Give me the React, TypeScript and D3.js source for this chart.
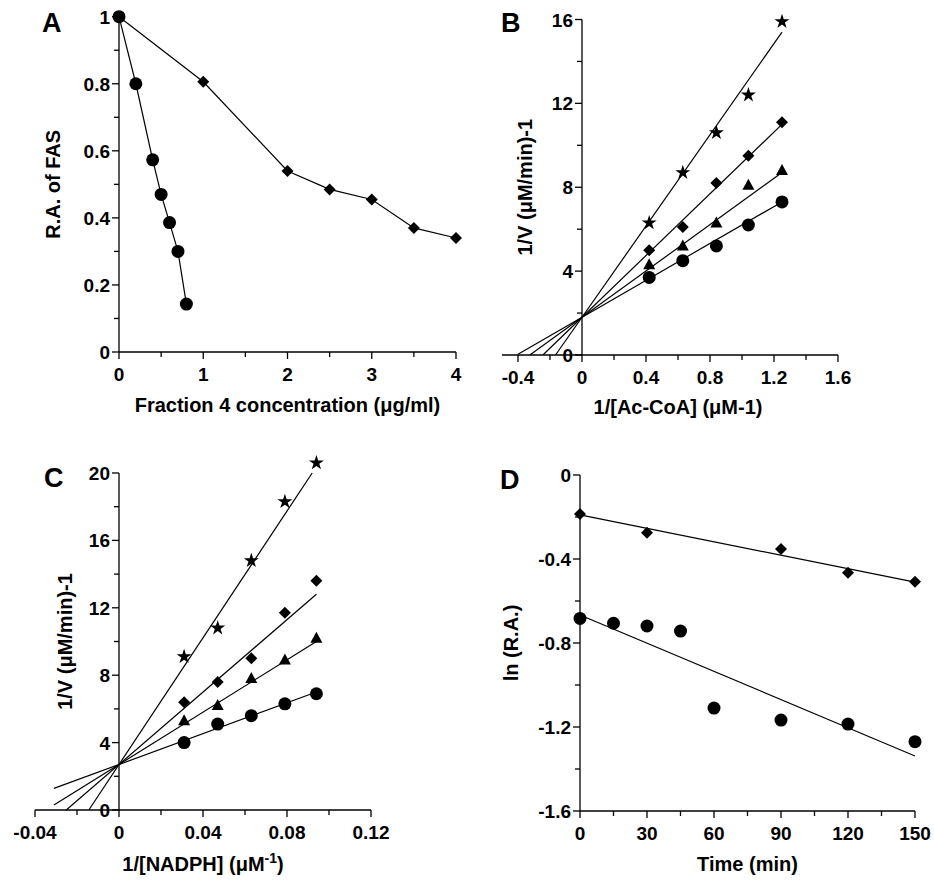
import React from 'react';
import * as d3 from 'd3';

// Panel A
const aCircleX = [0, 0.2, 0.4, 0.5, 0.6, 0.7, 0.8];
const aCircleY = [1, 0.8, 0.573, 0.47, 0.386, 0.3, 0.143];
const aDiamondX = [0, 1, 2, 2.5, 3, 3.5, 4];
const aDiamondY = [1, 0.806, 0.54, 0.485, 0.455, 0.37, 0.34];

// Panel B
const bX = [0.42, 0.63, 0.84, 1.04, 1.25];
const bStar = [6.3, 8.7, 10.6, 12.4, 15.9];
const bDiamond = [5.0, 6.1, 8.2, 9.5, 11.1];
const bTriangle = [4.3, 5.2, 6.3, 8.1, 8.8];
const bCircle = [3.7, 4.5, 5.2, 6.2, 7.3];
const bIntercept = 1.8;
const bLineEnd = [15.4, 11.0, 8.7, 7.3]; // star, diamond, triangle, circle at x=1.25

// Panel C
const cX = [0.031, 0.047, 0.063, 0.079, 0.094];
const cStar = [9.1, 10.8, 14.8, 18.3, 20.6];
const cDiamond = [6.4, 7.6, 9.0, 11.7, 13.6];
const cTriangle = [5.3, 6.2, 7.8, 8.9, 10.2];
const cCircle = [4.0, 5.1, 5.6, 6.3, 6.9];
const cIntercept = 2.7;
const cLineEndX = [0.092, 0.094, 0.094, 0.094];
const cLineEnd = [20.0, 12.8, 10.0, 7.0];

// Panel D
const dDiamondX = [0, 30, 90, 120, 150];
const dDiamondY = [-0.186, -0.275, -0.352, -0.465, -0.508];
const dCircleX = [0, 15, 30, 45, 60, 90, 120, 150];
const dCircleY = [-0.683, -0.706, -0.719, -0.743, -1.11, -1.167, -1.186, -1.27];
const dLines = [[-0.19, -0.51], [-0.667, -1.338]];

const FONT = '"Liberation Sans", Arial, sans-serif';
type Shape = 'circle' | 'diamond' | 'triangle' | 'star';

function marker(shape: Shape, x: number, y: number, key: string) {
  if (shape === 'circle') return <circle key={key} cx={x} cy={y} r={6.5} fill="#000" />;
  if (shape === 'diamond') return <path key={key} d={`M${x},${y - 6}L${x + 6},${y}L${x},${y + 6}L${x - 6},${y}Z`} fill="#000" />;
  if (shape === 'triangle') return <path key={key} d={`M${x},${y - 6.5}L${x + 6},${y + 4.5}L${x - 6},${y + 4.5}Z`} fill="#000" />;
  const sym = d3.symbol(d3.symbolStar, 70)();
  return <path key={key} d={sym || ''} transform={`translate(${x},${y})`} fill="#000" />;
}

interface AxisSpec {
  x: d3.ScaleLinear<number, number>;
  y: d3.ScaleLinear<number, number>;
  xMajor: number[]; xMinor: number[]; xFmt: (v: number) => string;
  yMajor: number[]; yMinor: number[]; yFmt: (v: number) => string;
  xAxisY: number; yAxisX: number; xRange: [number, number]; yRange: [number, number];
}

function Axes({ s }: { s: AxisSpec }) {
  const { x, y } = s;
  const ax = s.yAxisX, ay = s.xAxisY;
  return (
    <g stroke="#000" strokeWidth={1.3}>
      <line x1={x(s.xRange[0])} x2={x(s.xRange[1])} y1={ay} y2={ay} />
      <line x1={ax} x2={ax} y1={y(s.yRange[0])} y2={y(s.yRange[1])} />
      {s.xMajor.map((v) => <line key={'xM' + v} x1={x(v)} x2={x(v)} y1={ay} y2={ay + 7} />)}
      {s.xMinor.map((v) => <line key={'xm' + v} x1={x(v)} x2={x(v)} y1={ay} y2={ay + 5} />)}
      {s.yMajor.map((v) => <line key={'yM' + v} x1={ax - 7} x2={ax} y1={y(v)} y2={y(v)} />)}
      {s.yMinor.map((v) => <line key={'ym' + v} x1={ax - 5} x2={ax} y1={y(v)} y2={y(v)} />)}
      <g stroke="none" fill="#000" fontFamily={FONT} fontWeight="bold" fontSize={19}>
        {s.xMajor.map((v) => <text key={'xt' + v} x={x(v)} y={ay + 29} textAnchor="middle">{s.xFmt(v)}</text>)}
        {s.yMajor.map((v) => <text key={'yt' + v} x={ax - 9} y={y(v) + 7} textAnchor="end">{s.yFmt(v)}</text>)}
      </g>
    </g>
  );
}

const fmt = (v: number) => (v === 0 ? '0' : String(+v.toFixed(2)).replace(/^(-?)0\./, '$10.'));
const r = (a: number, b: number, st: number) => d3.range(a, b + st / 2, st).map((v) => +v.toFixed(4));

export default function App() {
  // A
  const ax = d3.scaleLinear().domain([0, 4]).range([119, 456]);
  const ay = d3.scaleLinear().domain([0, 1]).range([352, 16.7]);
  const line = d3.line<[number, number]>().x((d) => d[0]).y((d) => d[1]);
  // B
  const bx = d3.scaleLinear().domain([0, 1.6]).range([582, 838]);
  const by = d3.scaleLinear().domain([0, 16]).range([355, 19.5]);
  // C
  const cx = d3.scaleLinear().domain([0, 0.12]).range([119, 371]);
  const cy = d3.scaleLinear().domain([0, 20]).range([810, 473]);
  // D
  const dx = d3.scaleLinear().domain([0, 150]).range([580, 915]);
  const dy = d3.scaleLinear().domain([-1.6, 0]).range([811, 475]);

  const shapes: Shape[] = ['star', 'diamond', 'triangle', 'circle'];
  const bSeries = [bStar, bDiamond, bTriangle, bCircle];
  const cSeries = [cStar, cDiamond, cTriangle, cCircle];

  const bLines = bLineEnd.map((end) => {
    const slope = (end - bIntercept) / 1.25;
    const x0 = Math.max(-bIntercept / slope, -0.4);
    return [[x0, bIntercept + slope * x0], [1.25, end]];
  });
  const cLines = cLineEnd.map((end, i) => {
    const slope = (end - cIntercept) / cLineEndX[i];
    const x0 = Math.max(-cIntercept / slope, -0.031);
    return [[x0, cIntercept + slope * x0], [cLineEndX[i], end]];
  });

  const title = { fontFamily: FONT, fontWeight: 'bold' as const, fontSize: 20 };
  const letter = { fontFamily: FONT, fontWeight: 'bold' as const, fontSize: 27 };

  return (
    <svg width={934} height={886} style={{ position: 'absolute', left: 0, top: 0, background: '#fff' }}>
      {/* A */}
      <Axes s={{ x: ax, y: ay, xMajor: r(0, 4, 1), xMinor: r(0.5, 3.5, 1), xFmt: fmt,
        yMajor: r(0, 1, 0.2), yMinor: r(0.1, 0.9, 0.2), yFmt: fmt,
        xAxisY: ay(0), yAxisX: ax(0), xRange: [0, 4], yRange: [0, 1] }} />
      <path d={line(aCircleX.map((v, i) => [ax(v), ay(aCircleY[i])]))!} fill="none" stroke="#000" strokeWidth={1.2} />
      <path d={line(aDiamondX.map((v, i) => [ax(v), ay(aDiamondY[i])]))!} fill="none" stroke="#000" strokeWidth={1.2} />
      {aCircleX.map((v, i) => marker('circle', ax(v), ay(aCircleY[i]), 'ac' + i))}
      {aDiamondX.map((v, i) => marker('diamond', ax(v), ay(aDiamondY[i]), 'ad' + i))}
      <text x={42} y={32} {...letter}>A</text>
      <text transform={`translate(60,${ay(0.5)}) rotate(-90)`} textAnchor="middle" {...title}>R.A. of FAS</text>
      <text x={ax(2)} y={412} textAnchor="middle" {...title}>Fraction 4 concentration (μg/ml)</text>

      {/* B */}
      <Axes s={{ x: bx, y: by, xMajor: r(-0.4, 1.6, 0.4), xMinor: r(-0.2, 1.4, 0.4), xFmt: fmt,
        yMajor: r(0, 16, 4), yMinor: r(2, 14, 4), yFmt: fmt,
        xAxisY: by(0), yAxisX: bx(0), xRange: [-0.5, 1.6], yRange: [0, 16] }} />
      {bLines.map((l, i) => <path key={'bl' + i} d={line(l.map((p) => [bx(p[0]), by(p[1])]) as [number, number][])!} fill="none" stroke="#000" strokeWidth={1.2} />)}
      {bSeries.map((s, j) => s.map((v, i) => marker(shapes[j], bx(bX[i]), by(v), `b${j}-${i}`)))}
      <text x={501} y={32} {...letter}>B</text>
      <text transform={`translate(532,${by(8)}) rotate(-90)`} textAnchor="middle" {...title}>1/V (μM/min)-1</text>
      <text x={bx(0.6)} y={414} textAnchor="middle" {...title}>1/[Ac-CoA] (μM-1)</text>

      {/* C */}
      <Axes s={{ x: cx, y: cy, xMajor: r(-0.04, 0.12, 0.04), xMinor: r(-0.02, 0.1, 0.04), xFmt: fmt,
        yMajor: r(0, 20, 4), yMinor: r(2, 18, 4), yFmt: fmt,
        xAxisY: cy(0), yAxisX: cx(0), xRange: [-0.04, 0.12], yRange: [0, 20] }} />
      {cLines.map((l, i) => <path key={'cl' + i} d={line(l.map((p) => [cx(p[0]), cy(p[1])]) as [number, number][])!} fill="none" stroke="#000" strokeWidth={1.2} />)}
      {cSeries.map((s, j) => s.map((v, i) => marker(shapes[j], cx(cX[i]), cy(v), `c${j}-${i}`)))}
      <text x={44} y={487} {...letter}>C</text>
      <text transform={`translate(72,${cy(10)}) rotate(-90)`} textAnchor="middle" {...title}>1/V (μM/min)-1</text>
      <text x={cx(0.04)} y={871} textAnchor="middle" {...title}>1/[NADPH] (μM<tspan dy={-8} fontSize={14}>-1</tspan><tspan dy={8}>)</tspan></text>

      {/* D */}
      <Axes s={{ x: dx, y: dy, xMajor: r(0, 150, 30), xMinor: r(15, 135, 30), xFmt: fmt,
        yMajor: r(-1.6, 0, 0.4), yMinor: r(-1.4, -0.2, 0.4), yFmt: fmt,
        xAxisY: dy(-1.6), yAxisX: dx(0), xRange: [0, 150], yRange: [-1.6, 0] }} />
      {dLines.map((l, i) => <path key={'dl' + i} d={line([[dx(0), dy(l[0])], [dx(150), dy(l[1])]])!} fill="none" stroke="#000" strokeWidth={1.2} />)}
      {dDiamondX.map((v, i) => marker('diamond', dx(v), dy(dDiamondY[i]), 'dd' + i))}
      {dCircleX.map((v, i) => marker('circle', dx(v), dy(dCircleY[i]), 'dc' + i))}
      <text x={500} y={489} {...letter}>D</text>
      <text transform={`translate(518,${dy(-0.8)}) rotate(-90)`} textAnchor="middle" {...title}>ln (R.A.)</text>
      <text x={dx(75)} y={871} textAnchor="middle" {...title}>Time (min)</text>
    </svg>
  );
}
